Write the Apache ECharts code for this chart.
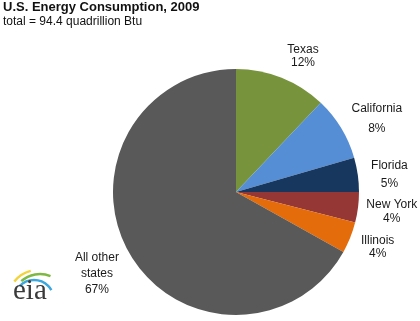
<!DOCTYPE html>
<html><head><meta charset="utf-8">
<script src="https://cdn.jsdelivr.net/npm/echarts@6/dist/echarts.min.js"></script>
<style>html,body{margin:0;padding:0;background:#fff}#c{width:420px;height:321px}</style>
</head><body><div id="c"></div>
<script>
var categories = ['Texas', 'California', 'Florida', 'New York', 'Illinois', 'All other\nstates'];
var shares = [12.1, 8.4, 4.5, 4.0, 4.1, 66.9];
var colors = ['#77933C', '#558ED5', '#17375E', '#953735', '#E46C0A', '#595959'];
var lineHeights = [13, 20, 18, 14, 13, 16];
var labelOffsets = [[8, 12], [5, 9], [-4, 5], [-2, 0], [-6, -4], [-2, 1]];

var chart = echarts.init(document.getElementById('c'), null, {renderer: 'canvas'});
var font = '"Liberation Sans", Arial, sans-serif';
var pieData = categories.map(function (c, i) {
  return {name: c, value: shares[i], itemStyle: {color: colors[i]}};
});
var labelData = categories.map(function (c, i) {
  return {name: c, value: shares[i], label: {lineHeight: lineHeights[i], offset: labelOffsets[i]}};
});
chart.setOption({
  animation: false,
  title: {
    text: 'U.S. Energy Consumption, 2009',
    subtext: 'total = 94.4 quadrillion Btu',
    left: 3, top: 1, itemGap: 2, padding: 0,
    textStyle: {fontFamily: font, fontSize: 13, fontWeight: 'bold', color: '#111'},
    subtextStyle: {fontFamily: font, fontSize: 12, color: '#111'}
  },
  series: [{
    type: 'pie',
    center: [236, 192],
    radius: [0, 123],
    startAngle: 90,
    clockwise: true,
    label: {show: false},
    labelLine: {show: false},
    silent: true,
    itemStyle: {borderWidth: 0},
    data: pieData
  }, {
    type: 'pie',
    center: [236, 192],
    radius: [123, 189],
    startAngle: 90,
    clockwise: true,
    silent: true,
    itemStyle: {color: 'rgba(0,0,0,0)'},
    labelLine: {show: false},
    label: {
      show: true, position: 'inside', color: '#1a1a1a',
      fontFamily: font, fontSize: 12, align: 'center',
      formatter: function (p) { return p.name + '\n' + Math.round(p.value) + '%'; }
    },
    data: labelData
  }],
  graphic: [
    {type: 'arc', shape: {cx: 38, cy: 300, r: 30, startAngle: 218 * Math.PI / 180, endAngle: 256 * Math.PI / 180},
     style: {stroke: '#F2D33A', lineWidth: 2.5, fill: null}},
    {type: 'arc', shape: {cx: 40, cy: 302, r: 28, startAngle: 228 * Math.PI / 180, endAngle: 292 * Math.PI / 180},
     style: {stroke: '#7DB843', lineWidth: 2.5, fill: null}},
    {type: 'arc', shape: {cx: 34, cy: 300, r: 20, startAngle: 225 * Math.PI / 180, endAngle: 330 * Math.PI / 180},
     style: {stroke: '#3AA7DE', lineWidth: 2.5, fill: null}},
    {type: 'text', left: 13, top: 277,
     style: {text: 'eia', fontFamily: '"Liberation Serif", "DejaVu Serif", serif', fontSize: 29, fill: '#3a3a3a'}}
  ]
});
</script></body></html>
